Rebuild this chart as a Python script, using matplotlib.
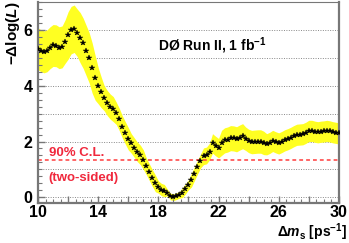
import matplotlib
matplotlib.use("Agg")
import matplotlib.pyplot as plt
import numpy as np
from matplotlib.ticker import MultipleLocator, FixedLocator, FuncFormatter

# scan points (delta m_s in ps^-1) and -dlogL values
dms = [10.0, 10.2, 10.4, 10.6, 10.8, 11.0, 11.2, 11.4, 11.6, 11.8,
       12.0, 12.2, 12.4, 12.6, 12.8, 13.0, 13.2, 13.4, 13.6, 13.8,
       14.0, 14.2, 14.4, 14.6, 14.8, 15.0, 15.2, 15.4, 15.6, 15.8,
       16.0, 16.2, 16.4, 16.6, 16.8, 17.0, 17.2, 17.4, 17.6, 17.8,
       18.0, 18.2, 18.4, 18.6, 18.8, 19.0, 19.2, 19.4, 19.6, 19.8,
       20.0, 20.2, 20.4, 20.6, 20.8, 21.0, 21.2, 21.4, 21.6, 21.8,
       22.0, 22.2, 22.4, 22.6, 22.8, 23.0, 23.2, 23.4, 23.6, 23.8,
       24.0, 24.2, 24.4, 24.6, 24.8, 25.0, 25.2, 25.4, 25.6, 25.8,
       26.0, 26.2, 26.4, 26.6, 26.8, 27.0, 27.2, 27.4, 27.6, 27.8,
       28.0, 28.2, 28.4, 28.6, 28.8, 29.0, 29.2, 29.4, 29.6, 29.8, 30.0]

dlogl = [5.32, 5.25, 5.21, 5.25, 5.36, 5.44, 5.43, 5.36, 5.39, 5.58,
         5.80, 5.99, 6.04, 5.90, 5.72, 5.52, 5.26, 5.00, 4.63, 4.28,
         4.00, 3.76, 3.55, 3.38, 3.25, 3.16, 3.01, 2.79, 2.53, 2.31,
         2.10, 1.93, 1.78, 1.63, 1.52, 1.35, 1.11, 0.90, 0.69, 0.50,
         0.37, 0.28, 0.24, 0.17, 0.03, 0.00, 0.04, 0.09, 0.17, 0.30,
         0.45, 0.62, 0.85, 1.08, 1.30, 1.47, 1.50, 1.64, 1.93, 1.84,
         1.76, 1.95, 2.04, 2.07, 2.12, 2.11, 2.08, 2.14, 2.19, 2.10,
         2.02, 1.98, 1.99, 2.00, 2.00, 1.95, 1.90, 1.95, 2.02, 1.97,
         1.93, 1.98, 2.04, 2.08, 2.13, 2.19, 2.24, 2.25, 2.26, 2.31,
         2.38, 2.38, 2.35, 2.33, 2.35, 2.36, 2.38, 2.36, 2.33, 2.31, 2.29]

# half width of the yellow band
band = [0.75, 0.75, 0.75, 0.75, 0.75, 0.75, 0.75, 0.75, 0.75, 0.78,
        0.85, 0.85, 0.85, 0.85, 0.90, 0.90, 0.90, 0.90, 0.90, 0.80,
        0.65, 0.55, 0.45, 0.45, 0.45, 0.45, 0.40, 0.40, 0.40, 0.40,
        0.40, 0.35, 0.35, 0.35, 0.35, 0.35, 0.30, 0.30, 0.30, 0.30,
        0.22, 0.22, 0.22, 0.12, 0.12, 0.12, 0.12, 0.12, 0.18, 0.18,
        0.18, 0.25, 0.25, 0.25, 0.25, 0.30, 0.30, 0.30, 0.35, 0.35,
        0.35, 0.45, 0.45, 0.45, 0.45, 0.45, 0.45, 0.45, 0.45, 0.42,
        0.42, 0.42, 0.42, 0.42, 0.42, 0.42, 0.38, 0.38, 0.38, 0.38,
        0.38, 0.38, 0.38, 0.38, 0.38, 0.38, 0.38, 0.38, 0.38, 0.38,
        0.38, 0.38, 0.38, 0.38, 0.38, 0.38, 0.38, 0.38, 0.38, 0.38, 0.38]

cl90 = 1.35

plt.rcParams["font.family"] = "Liberation Sans"
plt.rcParams["font.weight"] = "bold"
plt.rcParams["axes.labelweight"] = "bold"
plt.rcParams["mathtext.fontset"] = "custom"
plt.rcParams["mathtext.rm"] = "Liberation Sans:bold"
plt.rcParams["mathtext.bf"] = "Liberation Sans:bold"
plt.rcParams["mathtext.it"] = "Liberation Sans:bold:italic"

x = np.array(dms)
y = np.array(dlogl)
e = np.array(band)

fig = plt.figure(figsize=(3.49, 2.43), dpi=100)
ax = fig.add_axes([0.109, 0.165, 0.862, 0.827])

frame_col = "#777777"
ax.set_xlim(10, 30)
ax.set_ylim(-0.2, 7)

# horizontal dotted grid at every integer
for g in range(0, 7):
    ax.axhline(g, color="#888888", linestyle=(0, (1, 1.5)), linewidth=0.7, zorder=0)

ax.fill_between(x, y - e, y + e, color="#ffff22", linewidth=0, zorder=1)
ax.plot(x, y, linestyle="none", marker="*", markersize=4.0, color="black",
        markeredgewidth=0.3, zorder=3)

ax.axhline(cl90, color="#ff3c3c", linestyle=(0, (2.5, 2)), linewidth=1.1, zorder=2)
ax.text(10.7, 1.6, "90% C.L.", color="#f0283c", fontsize=9.5, fontweight="bold",
        va="center", ha="left")
ax.text(10.7, 0.69, "(two-sided)", color="#f0283c", fontsize=9.5, fontweight="bold",
        va="center", ha="left")

ax.text(18.0, 5.42, r"DØ Run II, 1 fb$^{-1}$", fontsize=10, fontweight="bold",
        va="center", ha="left")

# ticks
ax.xaxis.set_major_locator(MultipleLocator(2))
ax.xaxis.set_minor_locator(MultipleLocator(0.5))
ax.xaxis.set_major_formatter(FuncFormatter(lambda v, p: f"{v:.0f}" if int(round(v)) % 4 == 2 else ""))
ax.yaxis.set_major_locator(FixedLocator([0, 2, 4, 6]))
ax.yaxis.set_minor_locator(MultipleLocator(0.25))

ax.tick_params(which="both", direction="in", color=frame_col, top=False, right=False)
ax.tick_params(which="major", length=5, width=1.0, labelsize=11.5, pad=1.5)
ax.tick_params(axis="y", which="major", pad=4)
ax.tick_params(which="minor", length=3, width=0.8)
for lab in ax.get_xticklabels() + ax.get_yticklabels():
    lab.set_fontweight("bold")

for side in ["left", "bottom", "right"]:
    ax.spines[side].set_color(frame_col)
    ax.spines[side].set_linewidth(1.6)
ax.spines["top"].set_color(frame_col)
ax.spines["top"].set_linewidth(0.8)

ax.set_ylabel(r"$-\Delta\mathrm{log}(L)$", fontsize=11, loc="top", labelpad=1)
fig.text(347 / 349, 1 - 237 / 243, r"$\Delta m_{\mathrm{s}}$ [ps$^{-1}$]", fontsize=10,
         fontweight="bold", ha="right", va="baseline")

fig.savefig("out.png", dpi=100)
